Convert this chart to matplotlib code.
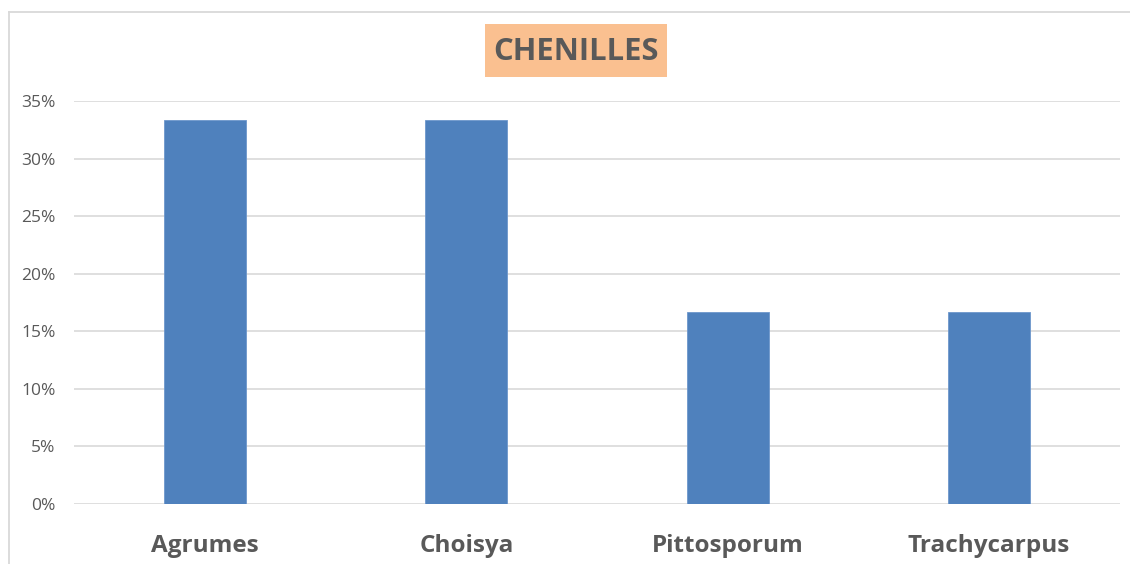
import matplotlib
matplotlib.use("Agg")
import matplotlib.pyplot as plt
from matplotlib.lines import Line2D
from matplotlib.patches import Rectangle
from matplotlib.ticker import FuncFormatter, MultipleLocator

categories = ["Agrumes", "Choisya", "Pittosporum", "Trachycarpus"]
shares = [1 / 3, 1 / 3, 1 / 6, 1 / 6]
title = "CHENILLES"

W, H = 1130, 564
fig = plt.figure(figsize=(W / 100, H / 100), dpi=100)
fig.patch.set_facecolor("white")

# chart frame (open on the right and bottom)
frame_col = "#d9d9d9"
fx, fy = 8.5 / W, 1 - 11.5 / H
fig.add_artist(Line2D([fx, fx], [0, fy], transform=fig.transFigure, color=frame_col, lw=1.3))
fig.add_artist(Line2D([fx, 1], [fy, fy], transform=fig.transFigure, color=frame_col, lw=1.3))

ax = fig.add_axes([74.3 / W, 1 - 504 / H, (1119.7 - 74.3) / W, (504 - 101) / H])
x = range(len(categories))
ax.bar(x, shares, width=0.314, color="#4f81bd", edgecolor="#6d97cc", linewidth=0.6, zorder=3)

ax.set_xlim(-0.5, len(categories) - 0.5)
ax.set_ylim(0, 0.35)
ax.yaxis.set_major_locator(MultipleLocator(0.05))
ax.yaxis.set_major_formatter(FuncFormatter(lambda v, p: f"{v * 100:.0f}%"))
ax.grid(axis="y", color="#d9d9d9", linewidth=1.2, zorder=0)
for s in ax.spines.values():
    s.set_visible(False)
ax.tick_params(axis="both", length=0)
ax.tick_params(axis="y", labelsize=12.5, labelcolor="#595959", pad=13.5)
ax.set_xticks(list(x))
ax.set_xticklabels(categories, fontsize=17.5, fontweight="bold", color="#595959",
                   family="Open Sans")
ax.tick_params(axis="x", pad=21.5)
for lbl in ax.get_yticklabels():
    lbl.set_family("Open Sans")

# title with its shaded box
fig.add_artist(Rectangle((485 / W, 1 - 77 / H), (667 - 485) / W, (77 - 24) / H,
                         transform=fig.transFigure, facecolor="#fac090",
                         edgecolor="none"))
fig.text(576 / W, 1 - 52 / H, title, ha="center", va="center", fontsize=22.3,
         fontweight="bold", color="#595959", family="Open Sans")

fig.savefig("out.png", dpi=100, facecolor="white")
